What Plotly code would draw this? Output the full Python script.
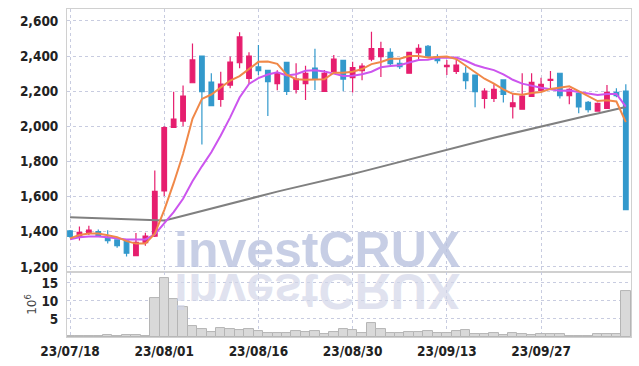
import plotly.graph_objects as go

dates = ["23/07/18","23/07/19","23/07/20","23/07/21","23/07/24","23/07/25","23/07/26","23/07/27","23/07/28","23/07/31",
         "23/08/01","23/08/02","23/08/03","23/08/04","23/08/07","23/08/08","23/08/09","23/08/10","23/08/11","23/08/14",
         "23/08/16","23/08/17","23/08/18","23/08/21","23/08/22","23/08/23","23/08/24","23/08/25","23/08/28","23/08/29",
         "23/08/30","23/08/31","23/09/01","23/09/04","23/09/05","23/09/06","23/09/07","23/09/08","23/09/11","23/09/12",
         "23/09/13","23/09/14","23/09/15","23/09/18","23/09/19","23/09/20","23/09/21","23/09/22","23/09/25","23/09/26",
         "23/09/27","23/10/04","23/10/05","23/10/06","23/10/10","23/10/11","23/10/12","23/10/13","23/10/16","23/10/17"]

open_ = [1404,1373,1394,1400,1368,1353,1347,1263,1337,1375,
         1632,1994,2030,2248,2400,2252,2153,2235,2362,2273,
         2338,2319,2243,2364,2210,2243,2332,2199,2313,2376,
         2277,2317,2382,2397,2421,2359,2302,2420,2456,2395,
         2340,2313,2302,2292,2159,2159,2264,2112,2097,2170,
         2205,2262,2302,2174,2188,2136,2087,2102,2193,2201]
high = [1410,1430,1434,1413,1408,1353,1347,1392,1394,1748,
        2000,2197,2233,2471,2400,2302,2311,2397,2535,2421,
        2463,2320,2319,2364,2359,2345,2442,2321,2406,2376,
        2368,2359,2539,2482,2444,2387,2425,2467,2463,2410,
        2378,2378,2340,2292,2216,2239,2264,2187,2302,2302,
        2277,2315,2302,2216,2188,2144,2135,2235,2216,2239]
low = [1365,1350,1381,1370,1332,1309,1258,1263,1320,1370,
       1603,1994,2001,2248,1897,2117,2112,2216,2330,2241,
       2292,2058,2205,2178,2187,2150,2207,2199,2313,2199,
       2193,2262,2370,2281,2338,2326,2302,2378,2395,2357,
       2292,2298,2211,2108,2102,2138,2136,2045,2097,2170,
       2205,2216,2159,2126,2074,2079,2085,2102,2165,1525]
close = [1373,1396,1409,1373,1349,1320,1277,1339,1375,1630,
         1993,2041,2172,2378,2197,2117,2241,2366,2509,2400,
         2317,2254,2302,2199,2269,2302,2269,2302,2383,2269,
         2334,2343,2442,2442,2357,2340,2421,2444,2400,2374,
         2347,2349,2260,2197,2201,2210,2182,2134,2172,2250,
         2239,2268,2174,2210,2110,2095,2131,2193,2174,1525]

ma5 = [1362,1381,1390,1389,1380,1369,1346,1332,1332,1388,
       1523,1676,1842,2043,2156,2181,2221,2260,2286,2327,
       2367,2369,2356,2294,2268,2265,2268,2268,2305,2305,
       2311,2326,2354,2366,2384,2385,2400,2401,2392,2396,
       2397,2383,2346,2305,2271,2243,2210,2185,2180,2190,
       2195,2213,2221,2228,2200,2171,2144,2148,2141,2024]
ma10 = [1356,1368,1373,1373,1368,1362,1356,1356,1356,1384,
        1446,1511,1587,1687,1772,1852,1948,2051,2164,2241,
        2274,2295,2308,2290,2297,2316,2319,2312,2300,2287,
        2288,2297,2311,2336,2344,2348,2363,2378,2379,2390,
        2391,2392,2373,2349,2333,2320,2296,2265,2243,2230,
        2219,2211,2203,2204,2195,2183,2178,2184,2184,2112]
ma60 = [1482,1480,1477,1475,1473,1471,1469,1467,1465,1463,
        1463,1476,1490,1504,1518,1532,1546,1560,1574,1589,
        1604,1616,1628,1641,1653,1666,1678,1691,1703,1716,
        1728,1742,1756,1770,1784,1798,1812,1826,1840,1854,
        1868,1883,1896,1909,1922,1935,1948,1961,1974,1987,
        2000,2012,2024,2037,2049,2061,2073,2085,2098,2110]

volume = [0.2,0.2,0.2,0.2,0.45,0.3,0.45,0.45,0.2,10.7,
          16.3,10.5,8.2,3.0,2.2,1.3,2.6,2.2,1.9,2.2,
          1.6,1.0,1.0,1.0,1.7,1.3,1.7,0.75,1.3,2.2,
          1.9,1.0,3.8,2.1,1.0,1.0,1.3,1.3,1.7,1.0,
          1.0,1.7,1.9,0.75,0.75,1.0,0.55,1.0,0.75,0.55,
          0.75,0.75,0.75,0.4,0.15,0.15,0.75,0.75,0.75,12.8]

tick_dates = ["23/07/18","23/08/01","23/08/16","23/08/30","23/09/13","23/09/27"]
price_ticks = [1200,1400,1600,1800,2000,2200,2400,2600]
vol_ticks = [5,10,15]

UP = "#e61e6e"
DOWN = "#3399cc"
GRID = "#c8cce0"
FONT = "DejaVu Sans Condensed, DejaVu Sans, sans-serif"

fig = go.Figure()

fig.add_trace(go.Bar(x=dates, y=volume, xaxis="x2", yaxis="y2",
                     marker=dict(color="#d9d9d9", line=dict(color="#b5b5b5", width=1)),
                     width=1.0, hoverinfo="skip"))

fig.add_trace(go.Scatter(x=dates, y=ma60, mode="lines", line=dict(color="#808080", width=2), hoverinfo="skip"))
fig.add_trace(go.Scatter(x=dates, y=ma10, mode="lines", line=dict(color="#cc55ee", width=2), hoverinfo="skip"))
fig.add_trace(go.Scatter(x=dates, y=ma5, mode="lines", line=dict(color="#f08848", width=2), hoverinfo="skip"))

fig.add_trace(go.Candlestick(x=dates, open=open_, high=high, low=low, close=close,
                             increasing=dict(line=dict(color=UP, width=1.2), fillcolor=UP),
                             decreasing=dict(line=dict(color=DOWN, width=1.2), fillcolor=DOWN),
                             whiskerwidth=0, hoverinfo="skip"))

xr = [-0.32, 59.55]
tickfont = dict(family=FONT, size=13.5, color="#222222", weight="bold")

fig.update_layout(
    width=639, height=366,
    margin=dict(l=67, r=8, t=9, b=29, autoexpand=False),
    paper_bgcolor="white", plot_bgcolor="white",
    showlegend=False,
    bargap=0,
    xaxis=dict(type="category", range=xr, anchor="y", tickvals=tick_dates, showticklabels=False,
               showgrid=True, gridcolor=GRID, griddash="dot", gridwidth=1,
               showline=True, linecolor="#d0d0d0", mirror=True, linewidth=1,
               rangeslider=dict(visible=False), zeroline=False, automargin=False),
    yaxis=dict(domain=[0.198, 1], range=[1170, 2668], tickvals=price_ticks, tickformat=",",
               showgrid=True, gridcolor=GRID, griddash="dot", gridwidth=1,
               showline=True, linecolor="#d0d0d0", mirror=True, linewidth=1,
               ticks="outside", ticklen=5, tickcolor="rgba(0,0,0,0)",
               tickfont=tickfont, zeroline=False, automargin=False),
    xaxis2=dict(type="category", range=xr, anchor="y2", tickvals=tick_dates, ticktext=tick_dates,
                showgrid=True, gridcolor=GRID, griddash="dot", gridwidth=1,
                showline=True, linecolor="#d0d0d0", mirror=True, linewidth=1,
                ticks="outside", ticklen=2, tickcolor="rgba(0,0,0,0)",
                tickfont=tickfont, zeroline=False, automargin=False),
    yaxis2=dict(domain=[0, 0.198], range=[0, 18], tickvals=vol_ticks,
                showgrid=True, gridcolor=GRID, griddash="dot", gridwidth=1,
                showline=True, linecolor="#d0d0d0", mirror=True, linewidth=1,
                ticks="outside", ticklen=5, tickcolor="rgba(0,0,0,0)",
                tickfont=tickfont, zeroline=False, automargin=False,
                title=dict(text="10<sup>6</sup>", font=dict(family="DejaVu Sans", size=12, color="#444444"),
                           standoff=2)),
)

fig.add_annotation(text="<b>investCRUX</b>", xref="paper", yref="paper", x=0.443, y=0.265,
                   xanchor="center", yanchor="middle", showarrow=False,
                   font=dict(family="Liberation Sans, Arial, sans-serif", size=50, color="rgba(185,194,222,0.8)"))
fig.add_annotation(text="<b>investCRUX</b>", xref="paper", yref="paper", x=0.443, y=0.140,
                   xanchor="center", yanchor="middle", showarrow=False,
                   font=dict(family="Liberation Sans, Arial, sans-serif", size=50, color="rgba(210,214,232,0.7)"))

post = """
(function(){
  function flip(){
    var gd = document.getElementById('{plot_id}');
    var el = gd && gd.querySelector('.annotation[data-index="1"] text');
    if(!el){ setTimeout(flip, 30); return; }
    el.style.transformBox = 'fill-box';
    el.style.transformOrigin = '50% 50%';
    el.style.transform = 'scaleY(-1)';
  }
  flip();
})();
"""

fig.write_html("out.html", post_script=post, config={"responsive": False, "displayModeBar": False})
